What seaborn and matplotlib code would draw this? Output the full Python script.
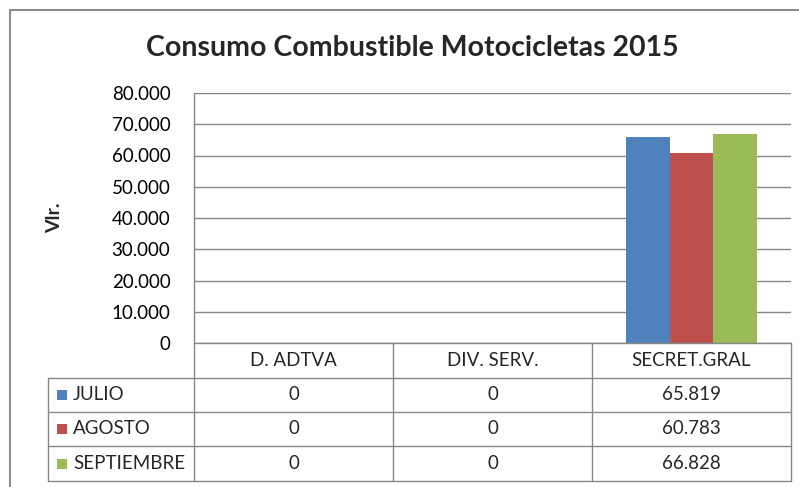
import numpy as np
import pandas as pd
import seaborn as sns
import matplotlib
matplotlib.use("Agg")
import matplotlib.pyplot as plt
from matplotlib.lines import Line2D
from matplotlib.patches import Rectangle
from matplotlib.transforms import blended_transform_factory
from matplotlib.ticker import FuncFormatter

# data
areas = ["D. ADTVA", "DIV. SERV.", "SECRET.GRAL"]
meses = ["JULIO", "AGOSTO", "SEPTIEMBRE"]
julio = [0, 0, 65819]
agosto = [0, 0, 60783]
septiembre = [0, 0, 66828]
colores = ["#4F81BD", "#C0504D", "#9BBB59"]

series = {"JULIO": julio, "AGOSTO": agosto, "SEPTIEMBRE": septiembre}
df = pd.DataFrame([(a, m, series[m][i]) for m in meses for i, a in enumerate(areas)],
                  columns=["area", "mes", "valor"])

sns.set_theme(style="white")
plt.rcParams['font.family'] = ['Lato', 'DejaVu Sans']

W, H = 799, 487
fig = plt.figure(figsize=(W / 100, H / 100), dpi=100)


def fx(px):
    return px / W


def fy(py):
    return 1 - py / H


grid_c = "#868686"
left_px, right_px, top_px, zero_px = 194, 791, 93, 343
ax = fig.add_axes([fx(left_px), fy(zero_px), fx(right_px - left_px), (zero_px - top_px) / H])

sns.barplot(data=df, x="area", y="valor", hue="mes", palette=colores, width=0.66,
            gap=0, saturation=1, legend=False, ax=ax, errorbar=None, linewidth=0)

ax.set_xlim(-0.5, len(areas) - 0.5)
ax.set_ylim(0, 80000)
ax.set_yticks(np.arange(0, 80001, 10000))
ax.yaxis.set_major_formatter(FuncFormatter(lambda v, p: f"{int(v):,}".replace(",", ".")))
ax.tick_params(axis="y", length=0, pad=17, labelsize=13.5, colors="black")
ax.set_xticks([])
ax.set_xlabel("")
ax.set_ylabel("")
ax.grid(axis="y", color=grid_c, linewidth=1)
ax.set_axisbelow(True)
for s in ["top", "right", "bottom"]:
    ax.spines[s].set_visible(False)
ax.spines["left"].set_color(grid_c)
ax.spines["left"].set_linewidth(1)

# axis label and title
fig.text(fx(55), fy(218), "Vlr.", rotation=90, ha="center", va="center",
         fontsize=14, fontweight="bold")
fig.text(fx(412), fy(48), "Consumo Combustible Motocicletas 2015", ha="center",
         va="center", fontsize=20.5, fontweight="bold")

# data table below the plot
bt = blended_transform_factory(ax.transData, fig.transFigure)
row_px = [343, 378, 412, 446, 481]
n = len(areas)
tab_left = 48
fs_tab = 13.5


def hline(x0, x1, y, trans):
    fig.add_artist(Line2D([x0, x1], [fy(y), fy(y)], transform=trans, color=grid_c, lw=1))


# header row
hline(-0.5, n - 0.5, row_px[0], bt)
for i in range(n + 1):
    fig.add_artist(Line2D([i - 0.5, i - 0.5], [fy(row_px[0]), fy(row_px[-1])],
                          transform=bt, color=grid_c, lw=1))
for i, a in enumerate(areas):
    fig.text(i, fy((row_px[0] + row_px[1]) / 2), a, transform=bt, ha="center",
             va="center", fontsize=fs_tab)

# body rows
for r in range(1, len(row_px)):
    fig.add_artist(Line2D([fx(tab_left), fx(left_px)], [fy(row_px[r])] * 2,
                          transform=fig.transFigure, color=grid_c, lw=1))
    hline(-0.5, n - 0.5, row_px[r], bt)
fig.add_artist(Line2D([fx(tab_left)] * 2, [fy(row_px[1]), fy(row_px[-1])],
                      transform=fig.transFigure, color=grid_c, lw=1))

for r, m in enumerate(meses):
    yc = fy((row_px[r + 1] + row_px[r + 2]) / 2)
    fig.add_artist(Rectangle((fx(57), yc - 5 / H), 10 / W, 10 / H,
                             transform=fig.transFigure, color=colores[r], lw=0))
    fig.text(fx(73), yc, m, ha="left", va="center", fontsize=fs_tab)
    for i, v in enumerate(series[m]):
        fig.text(i, yc, f"{v:,}".replace(",", "."), transform=bt, ha="center",
                 va="center", fontsize=fs_tab)

# outer chart border
fig.add_artist(Line2D([fx(10), fx(10)], [fy(10), 0], transform=fig.transFigure,
                      color="#8c8c8c", lw=1.5))
fig.add_artist(Line2D([fx(10), 1], [fy(10), fy(10)], transform=fig.transFigure,
                      color="#8c8c8c", lw=1.5))

fig.savefig("out.png", dpi=100)
